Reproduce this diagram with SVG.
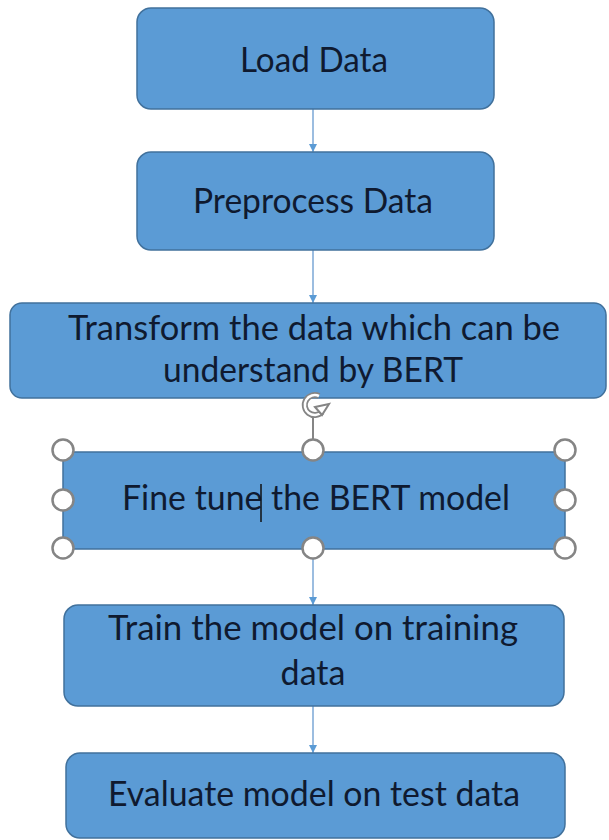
<svg xmlns="http://www.w3.org/2000/svg" width="609" height="840" viewBox="0 0 609 840">
<defs>
<style>
.box{fill:#5B9BD5;stroke:#41719C;stroke-width:1.5}
.lbl{font-family:Lato,"Open Sans","Liberation Sans",sans-serif;font-size:34px;fill:#0f1a30;text-anchor:middle}
.conn{stroke:#7BA7D6;stroke-width:1.5;fill:none}
.hdl{fill:#ffffff;stroke:#858585;stroke-width:2.5}
</style>
<marker id="arr" viewBox="0 0 10 10" refX="10" refY="5" markerWidth="8" markerHeight="8" markerUnits="userSpaceOnUse" orient="auto">
<path d="M0,0 L10,5 L0,10 Z" fill="#5B9BD5"/>
</marker>
</defs>
<rect width="609" height="840" fill="#ffffff"/>
<g id="connectors">
<line class="conn" x1="313" y1="109" x2="313" y2="152" marker-end="url(#arr)"/>
<line class="conn" x1="313" y1="250" x2="313" y2="303" marker-end="url(#arr)"/>
<line class="conn" x1="313" y1="549" x2="313" y2="605" marker-end="url(#arr)"/>
<line class="conn" x1="313" y1="706" x2="313" y2="753" marker-end="url(#arr)"/>
</g>
<g id="load-data">
<rect class="box" x="137" y="8" width="357" height="101" rx="14"/>
<text class="lbl" x="314" y="72" textLength="148" lengthAdjust="spacingAndGlyphs">Load Data</text>
</g>
<g id="preprocess-data">
<rect class="box" x="137" y="152" width="357" height="98" rx="14"/>
<text class="lbl" x="313" y="213" textLength="240" lengthAdjust="spacingAndGlyphs">Preprocess Data</text>
</g>
<g id="transform">
<rect class="box" x="10" y="303" width="596" height="95" rx="12"/>
<text class="lbl" x="314" y="340" textLength="492" lengthAdjust="spacingAndGlyphs">Transform the data which can be</text>
<text class="lbl" x="313" y="382" textLength="300" lengthAdjust="spacingAndGlyphs">understand by BERT</text>
</g>
<g id="fine-tune">
<rect class="box" x="63" y="452" width="502" height="97"/>
<text class="lbl" x="316" y="510" textLength="388" lengthAdjust="spacingAndGlyphs">Fine tune the BERT model</text>
<line x1="261" y1="484" x2="261" y2="522" stroke="#111111" stroke-width="1.5"/>
<line x1="313" y1="415" x2="313" y2="440" stroke="#858585" stroke-width="2"/>
<path d="M319,396 A10,10 0 1 0 322,412" fill="none" stroke="#858585" stroke-width="6"/>
<path d="M319,396 A10,10 0 1 0 322,412" fill="none" stroke="#ffffff" stroke-width="2.5"/>
<path d="M315,407 L329,404 L322,415 Z" fill="#ffffff" stroke="#858585" stroke-width="2"/>
<circle class="hdl" cx="63" cy="450" r="10.5"/>
<circle class="hdl" cx="313" cy="450" r="10.5"/>
<circle class="hdl" cx="565" cy="450" r="10.5"/>
<circle class="hdl" cx="63" cy="500" r="10.5"/>
<circle class="hdl" cx="565" cy="500" r="10.5"/>
<circle class="hdl" cx="63" cy="548" r="10.5"/>
<circle class="hdl" cx="313" cy="548" r="10.5"/>
<circle class="hdl" cx="565" cy="548" r="10.5"/>
</g>
<g id="train">
<rect class="box" x="64" y="605" width="500" height="101" rx="14"/>
<text class="lbl" x="313" y="640" textLength="410" lengthAdjust="spacingAndGlyphs">Train the model on training</text>
<text class="lbl" x="313" y="685">data</text>
</g>
<g id="evaluate">
<rect class="box" x="66" y="753" width="499" height="85" rx="14"/>
<text class="lbl" x="314" y="806" textLength="412" lengthAdjust="spacingAndGlyphs">Evaluate model on test data</text>
</g>
</svg>
